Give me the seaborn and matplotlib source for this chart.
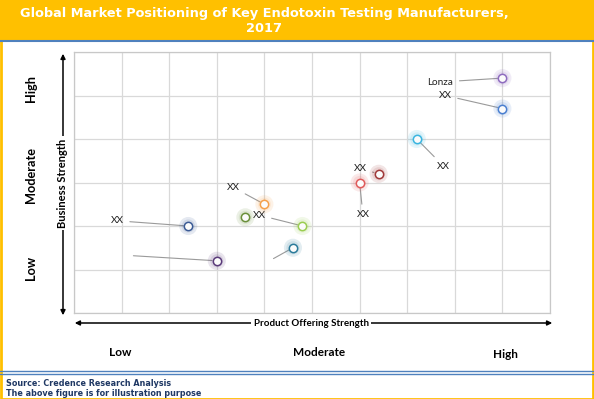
import matplotlib
matplotlib.use("Agg")
import matplotlib.pyplot as plt
from matplotlib.patches import Rectangle, FancyArrowPatch
from matplotlib.lines import Line2D
import seaborn as sns
import pandas as pd

# data (grid units: product 0-10, business 0-6)
companies = ["Lonza", "XX a", "XX b", "XX c", "XX d", "XX e", "XX f", "XX g", "XX h", "XX i", "XX j"]
labels = ["Lonza", "XX", "XX", "XX", "XX", "XX", "", "XX", "XX", "", ""]
product_strength = [9.0, 9.0, 7.2, 6.4, 6.0, 4.0, 3.6, 4.8, 2.4, 4.6, 3.0]
business_strength = [5.4, 4.7, 4.0, 3.2, 3.0, 2.5, 2.2, 2.0, 2.0, 1.5, 1.2]
colors = ["#8e6bbf", "#4a7fd0", "#3ab5e0", "#a03838", "#e05a5a", "#f5a04a",
          "#6a8f3a", "#9acd50", "#3a5a95", "#2a7a9a", "#5a3a7a"]
level_labels = ["Low", "Moderate", "High"]

# where each callout text sits (grid units, text centre)
label_pos = [(7.70, 5.31), (7.80, 5.0), (7.77, 3.37), (6.01, 3.32), (6.07, 2.26),
             (3.34, 2.89), None, (3.89, 2.25), (0.91, 2.12), (4.14, 1.22), (1.19, 1.32)]

df = pd.DataFrame({"company": companies, "product": product_strength,
                   "business": business_strength})
palette = dict(zip(companies, colors))

sns.set_theme(style="white")
plt.rcParams["font.family"] = ["Lato", "DejaVu Sans"]

W, H = 594, 399
fig = plt.figure(figsize=(W / 100, H / 100), dpi=100)
ax = fig.add_axes([74 / W, (H - 313) / H, (550 - 74) / W, (313 - 52) / H])

# glow behind the markers
sns.scatterplot(data=df, x="product", y="business", hue="company", palette=palette,
                s=170, alpha=0.13, linewidth=0, legend=False, ax=ax, zorder=3)
sns.scatterplot(data=df, x="product", y="business", hue="company", palette=palette,
                s=90, alpha=0.12, linewidth=0, legend=False, ax=ax, zorder=3)
for c, px, py in zip(colors, product_strength, business_strength):
    ax.scatter([px], [py], s=36, facecolor="#fbfbfb", edgecolor=c, linewidth=1.1, zorder=4)

for lab, pos, px, py in zip(labels, label_pos, product_strength, business_strength):
    if pos is None:
        continue
    ax.annotate(lab, xy=(px, py), xytext=pos, fontsize=7.2, color="#222222",
                ha="center", va="center",
                arrowprops=dict(arrowstyle="-", color="#9a9a9a", lw=0.8,
                                shrinkA=2, shrinkB=3.5), zorder=2)

ax.set_xlim(0, 10)
ax.set_ylim(0, 6)
ax.set_xticks(range(0, 11))
ax.set_yticks(range(0, 7))
ax.grid(True, color="#d9d9d9", linewidth=0.9)
ax.tick_params(left=False, bottom=False, labelleft=False, labelbottom=False)
for s in ax.spines.values():
    s.set_color("#c8c8c8")
    s.set_linewidth(0.9)
ax.set_xlabel("")
ax.set_ylabel("")

def fx(px):
    return px / W

def fy(py):
    return 1 - py / H

# header band and frame
fig.patches.append(Rectangle((0, fy(40)), 1, 40 / H, transform=fig.transFigure,
                             color="#ffc000", zorder=0))
fig.lines.append(Line2D([0, 1], [fy(41), fy(41)], transform=fig.transFigure,
                        color="#4f81bd", lw=1.5))
fig.lines.append(Line2D([0, 1], [fy(371), fy(371)], transform=fig.transFigure,
                        color="#4f81bd", lw=1.0))
fig.lines.append(Line2D([0, 1], [fy(374), fy(374)], transform=fig.transFigure,
                        color="#4f81bd", lw=1.0))
fig.patches.append(Rectangle((0.5 / W, 0.5 / H), (W - 2) / W, (H - 1) / H,
                             transform=fig.transFigure, fill=False,
                             edgecolor="#ffc000", lw=2))

fig.text(fx(264), fy(21), "Global Market Positioning of Key Endotoxin Testing Manufacturers,\n2017",
         ha="center", va="center", color="white", fontsize=9.3, fontweight="bold",
         family="DejaVu Sans", linespacing=1.1)

# axis arrows
arrow_kw = dict(arrowstyle="<|-|>", mutation_scale=7, color="black", lw=1.1,
                transform=fig.transFigure)
fig.patches.append(FancyArrowPatch((fx(63), fy(318)), (fx(63), fy(51)), **arrow_kw))
fig.patches.append(FancyArrowPatch((fx(72), fy(323)), (fx(555), fy(323)), **arrow_kw))
fig.text(fx(62), fy(183), "Business Strength", rotation=90, ha="center", va="center",
         fontsize=8, fontweight="bold", color="black",
         bbox=dict(facecolor="white", edgecolor="none", pad=1.5))
fig.text(fx(311), fy(324), "Product Offering Strength", ha="center", va="center",
         fontsize=7, fontweight="bold", color="black",
         bbox=dict(facecolor="white", edgecolor="none", pad=2))

for lab, yy in zip(level_labels, [268, 175, 88]):
    fig.text(fx(31), fy(yy), lab, rotation=90, ha="center", va="center",
             fontsize=9.2, fontweight="bold", color="black")
for lab, xx, yy in zip(level_labels, [120, 319, 505], [353, 352, 355]):
    fig.text(fx(xx), fy(yy), lab, ha="center", va="center",
             fontsize=8.5, fontweight="bold", color="black")

fig.text(fx(6), fy(383), "Source: Credence Research Analysis", ha="left", va="center",
         fontsize=5.8, fontweight="bold", color="#1f3864", family="DejaVu Sans")
fig.text(fx(6), fy(394), "The above figure is for illustration purpose", ha="left",
         va="center", fontsize=5.8, fontweight="bold", color="#1f3864", family="DejaVu Sans")

fig.savefig("out.png", dpi=100)
